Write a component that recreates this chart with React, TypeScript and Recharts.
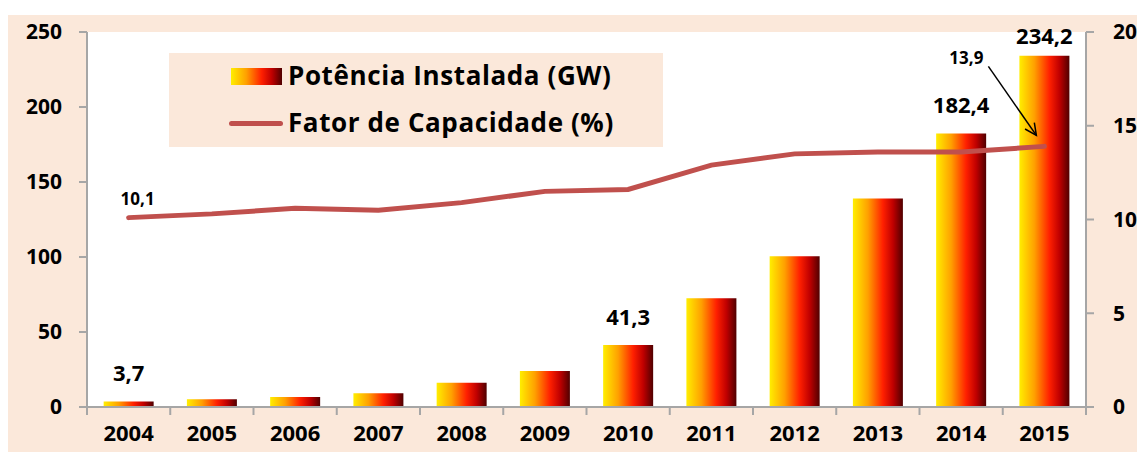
import React from 'react';
import { Bar, CartesianGrid, ComposedChart, LabelList, Line, XAxis, YAxis } from 'recharts';

const years = ['2004', '2005', '2006', '2007', '2008', '2009', '2010', '2011', '2012', '2013', '2014', '2015'];
const potencia = [3.7, 5.1, 6.7, 9.2, 16.2, 24.0, 41.3, 72.5, 100.5, 139.0, 182.4, 234.2];
const fator = [10.1, 10.3, 10.6, 10.5, 10.9, 11.5, 11.6, 12.9, 13.5, 13.6, 13.6, 13.9];
const leftTicks = [0, 50, 100, 150, 200, 250];
const rightTicks = [0, 5, 10, 15, 20];
const labeledBars = ['2004', '2010', '2014', '2015'];
const labeledPoints = ['2004', '2015'];

const data = years.map((year, i) => ({ year, potencia: potencia[i], fator: fator[i] }));

const FONT = '"Open Sans", Lato, sans-serif';
const AXIS = '#a6a6a6';
const BEIGE = '#fbe8da';
const LINE = '#c0504d';
const PLOT_TOP = 17;

const fmt = (v: number) => v.toFixed(1).replace('.', ',');

function YearTick(props: any) {
  const { x, y, payload, index, visibleTicksCount } = props;
  const half = payload.offset ?? 0;
  return (
    <g>
      <line x1={x - half} y1={y - 8} x2={x - half} y2={y} stroke={AXIS} strokeWidth={2} />
      {index === visibleTicksCount - 1 && (
        <line x1={x + half} y1={y - 8} x2={x + half} y2={y} stroke={AXIS} strokeWidth={2} />
      )}
      <text x={x} y={y + 26} textAnchor="middle" fontFamily={FONT} fontWeight="bold" fontSize={22} fill="#000">
        {payload.value}
      </text>
    </g>
  );
}

function BarValue(props: any) {
  const { x, y, width, value, index } = props;
  if (!labeledBars.includes(years[index])) return null;
  // keep the tallest label inside the chart, like the original
  const ty = Math.max(y - 20, PLOT_TOP + 12);
  return (
    <text x={x + width / 2} y={ty} textAnchor="middle" fontFamily={FONT} fontWeight="bold" fontSize={22} fill="#000">
      {fmt(value)}
    </text>
  );
}

function PointValue(props: any) {
  const { x, y, value, index } = props;
  if (!labeledPoints.includes(years[index])) return null;
  if (index === 0) {
    return (
      <text x={x + 9} y={y - 13} textAnchor="middle" fontFamily={FONT} fontWeight="bold" fontSize={17} fill="#000">
        {fmt(value)}
      </text>
    );
  }
  // arrow from label down to the last point
  const sx = x - 56, sy = y - 80, ex = x - 8, ey = y - 11;
  const ang = Math.atan2(ey - sy, ex - sx);
  const h = 13, spread = 0.45;
  const ax = ex - h * Math.cos(ang - spread), ay = ey - h * Math.sin(ang - spread);
  const bx = ex - h * Math.cos(ang + spread), by = ey - h * Math.sin(ang + spread);
  return (
    <g>
      <text x={x - 78} y={y - 82} textAnchor="middle" fontFamily={FONT} fontWeight="bold" fontSize={17} fill="#000">
        {fmt(value)}
      </text>
      <line x1={sx} y1={sy} x2={ex} y2={ey} stroke="#000" strokeWidth={1.5} />
      <polyline points={`${ax},${ay} ${ex},${ey} ${bx},${by}`} fill="none" stroke="#000" strokeWidth={1.5} />
    </g>
  );
}

function LegendBox() {
  const text = { fontFamily: FONT, fontWeight: 'bold' as const, fontSize: 26, letterSpacing: 0.6, color: '#000' };
  return (
    <div
      style={{
        position: 'absolute',
        left: 161,
        top: 38,
        width: 494,
        height: 94,
        background: BEIGE,
      }}
    >
      <div style={{ position: 'absolute', left: 62, top: 15, width: 51, height: 17, background: 'linear-gradient(to right, #ffee00, #ffa000 30%, #ff2000 60%, #c00000 80%, #500000)' }} />
      <div style={{ position: 'absolute', left: 119, top: 6, lineHeight: '32px', whiteSpace: 'nowrap', ...text }}>Potência Instalada (GW)</div>
      <div style={{ position: 'absolute', left: 60, top: 68, width: 54, height: 5, borderRadius: 3, background: LINE }} />
      <div style={{ position: 'absolute', left: 119, top: 53, lineHeight: '32px', whiteSpace: 'nowrap', ...text }}>Fator de Capacidade (%)</div>
    </div>
  );
}

export default function App() {
  return (
    <div style={{ paddingTop: 7 }}>
      <div style={{ position: 'relative', width: 1137, height: 437, background: BEIGE }}>
        <ComposedChart width={1137} height={437} data={data} margin={{ top: PLOT_TOP, right: 0, bottom: 0, left: 0 }} barCategoryGap="20%">
          <defs>
            <linearGradient id="barFill" x1="0" y1="0" x2="1" y2="0">
              <stop offset="0%" stopColor="#ffee00" />
              <stop offset="30%" stopColor="#ffa000" />
              <stop offset="60%" stopColor="#ff2000" />
              <stop offset="80%" stopColor="#c00000" />
              <stop offset="100%" stopColor="#500000" />
            </linearGradient>
          </defs>
          <CartesianGrid fill="#ffffff" horizontal={false} vertical={false} />
          <XAxis
            dataKey="year"
            height={45}
            axisLine={{ stroke: AXIS, strokeWidth: 2 }}
            tickLine={false}
            tickSize={8}
            tickMargin={0}
            interval={0}
            tick={<YearTick />}
          />
          <YAxis
            yAxisId="left"
            width={79}
            domain={[0, 250]}
            ticks={leftTicks}
            axisLine={{ stroke: AXIS, strokeWidth: 2 }}
            tickLine={{ stroke: AXIS, strokeWidth: 2 }}
            tickSize={8}
            tickMargin={17}
            tick={{ fill: '#000', fontFamily: FONT, fontWeight: 'bold', fontSize: 21 }}
          />
          <YAxis
            yAxisId="right"
            orientation="right"
            width={59}
            domain={[0, 20]}
            ticks={rightTicks}
            axisLine={{ stroke: AXIS, strokeWidth: 2 }}
            tickLine={{ stroke: AXIS, strokeWidth: 2 }}
            tickSize={8}
            tickMargin={19}
            tick={{ fill: '#000', fontFamily: FONT, fontWeight: 'bold', fontSize: 21 }}
          />
          <Bar yAxisId="left" dataKey="potencia" fill="url(#barFill)" isAnimationActive={false}>
            <LabelList dataKey="potencia" content={<BarValue />} />
          </Bar>
          <Line
            yAxisId="right"
            type="linear"
            dataKey="fator"
            stroke={LINE}
            strokeWidth={5}
            strokeLinecap="round"
            dot={false}
            isAnimationActive={false}
          >
            <LabelList dataKey="fator" content={<PointValue />} />
          </Line>
        </ComposedChart>
        <LegendBox />
      </div>
    </div>
  );
}
